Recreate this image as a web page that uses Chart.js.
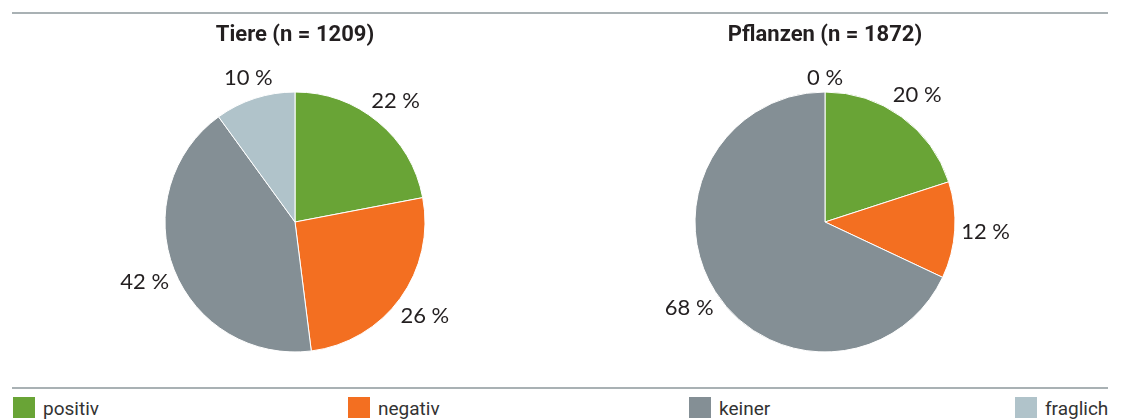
<!DOCTYPE html>
<html lang="de">
<head>
<meta charset="utf-8">
<script src="https://cdn.jsdelivr.net/npm/chart.js@4/dist/chart.umd.min.js"></script>
<style>
  html, body { margin: 0; padding: 0; background: #fff; }
  body { width: 1125px; height: 419px; position: relative; overflow: hidden; font-family: Roboto, sans-serif; }
  .rule { position: absolute; left: 12px; width: 1096px; height: 2px; background: #a9b1b4; }
  .box { position: absolute; }
  .legend-item { position: absolute; top: 397px; height: 21px; display: flex; align-items: flex-end; }
  .legend-item span.sw { width: 22px; height: 21px; display: inline-block; margin-right: 8px; }
  .legend-item span.lb { font-size: 19px; color: #333; line-height: 19px; position: relative; top: 0px; }
</style>
</head>
<body>
<div class="rule" style="top:12px"></div>
<div class="rule" style="top:387px"></div>
<div class="box" style="left:45px;top:0;width:500px;height:388px"><canvas id="tiereChart"></canvas></div>
<div class="box" style="left:575px;top:0;width:500px;height:388px"><canvas id="pflanzenChart"></canvas></div>
<div id="legend"></div>
<script>
// Kategorien und Werte (Prozent)
const categories = ['positiv', 'negativ', 'keiner', 'fraglich'];
const tiereValues = [22, 26, 42, 10];
const pflanzenValues = [20, 12, 68, 0];
const titles = ['Tiere (n = 1209)', 'Pflanzen (n = 1872)'];
const colors = ['#69a436', '#f36f21', '#848f95', '#b0c3ca'];
const legendLeft = [13, 348, 689, 1015];

// Prozentangaben außerhalb der Tortenstücke
const outsideLabels = {
    id: 'outsideLabels',
    afterDatasetsDraw(chart) {
        const ctx = chart.ctx;
        const meta = chart.getDatasetMeta(0);
        const values = chart.data.datasets[0].data;
        ctx.save();
        ctx.font = '22px Lato, sans-serif';
        ctx.fillStyle = '#231f20';
        ctx.textAlign = 'center';
        ctx.textBaseline = 'middle';
        meta.data.forEach((arc, i) => {
            const { x, y, startAngle, endAngle, outerRadius } = arc.getProps(['x', 'y', 'startAngle', 'endAngle', 'outerRadius'], true);
            const a = (startAngle + endAngle) / 2;
            const text = `${values[i]} %`;
            const w = ctx.measureText(text).width;
            // Abstand so, dass die Textbox knapp am Rand liegt
            const extent = Math.abs(Math.cos(a)) * w / 2 + Math.abs(Math.sin(a)) * 8;
            const d = outerRadius + 6 + extent;
            ctx.fillText(text, x + Math.cos(a) * d, y + Math.sin(a) * d);
        });
        ctx.restore();
    }
};

function createPie(id, values, title) {
    const ctx = document.getElementById(id);
    return new Chart(ctx, {
        type: 'pie',
        data: {
            labels: categories,
            datasets: [{
                data: values,
                backgroundColor: colors,
                borderColor: '#ffffff',
                borderWidth: 1
            }]
        },
        options: {
            responsive: true,
            maintainAspectRatio: false,
            animation: false,
            layout: { padding: { top: 0, bottom: 35.5, left: 0, right: 0 } },
            plugins: {
                legend: { display: false },
                tooltip: { enabled: false },
                title: {
                    display: true,
                    text: title,
                    color: '#231f20',
                    font: { family: 'Roboto', size: 22, weight: 'bold', lineHeight: 1.2 },
                    padding: { top: 22, bottom: 43.1 }
                }
            }
        },
        plugins: [outsideLabels]
    });
}

createPie('tiereChart', tiereValues, titles[0]);
createPie('pflanzenChart', pflanzenValues, titles[1]);

// Legende unten
const legend = document.getElementById('legend');
categories.forEach((c, i) => {
    const item = document.createElement('div');
    item.className = 'legend-item';
    item.style.left = legendLeft[i] + 'px';
    item.innerHTML = `<span class="sw" style="background:${colors[i]}"></span><span class="lb">${c}</span>`;
    legend.appendChild(item);
});
</script>
</body>
</html>
